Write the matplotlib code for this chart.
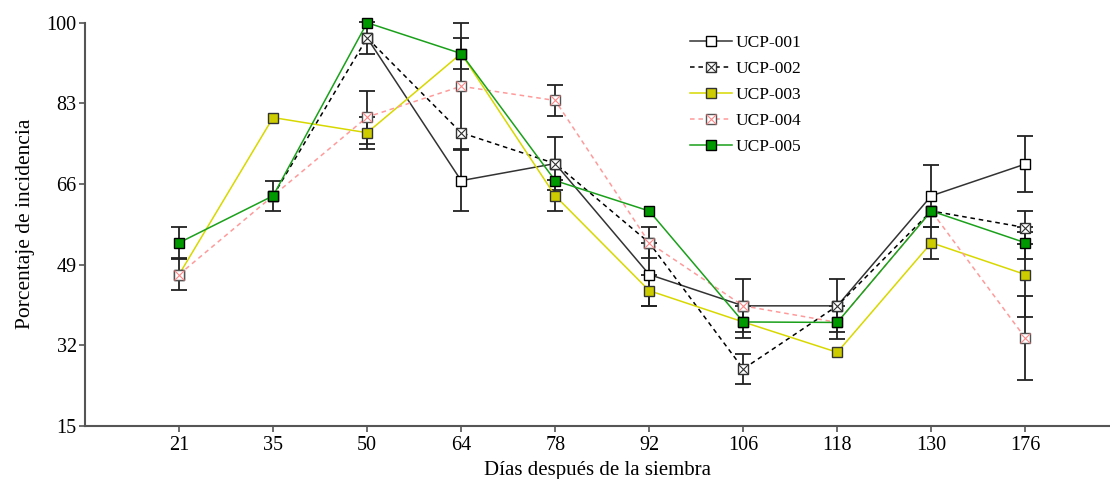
import numpy as np
import matplotlib
matplotlib.use("Agg")
import matplotlib.pyplot as plt
from matplotlib.legend_handler import HandlerTuple

plt.rcParams['font.family'] = ['Liberation Serif', 'DejaVu Serif']

dias = ['21', '35', '50', '64', '78', '92', '106', '118', '130', '176']
nan = np.nan

ucp001 = [nan, nan, 96.8, 66.7, 70.3, 46.9, 40.3, 40.3, 63.5, 70.2]
ucp002 = [nan, 63.5, 96.8, 76.8, 70.3, 53.6, 27.0, 40.3, 60.3, 56.8]
ucp003 = [46.9, 80.0, 76.8, 93.5, 63.5, 43.5, 36.9, 30.5, 53.6, 46.9]
ucp004 = [46.9, 63.5, 80.1, 86.6, 83.6, 53.6, 40.3, 36.8, 60.3, 33.5]
ucp005 = [53.6, 63.5, 100.0, 93.5, 66.7, 60.3, 36.9, 36.8, 60.3, 53.6]

err001 = [0, 0, 0, 6.5, 5.6, 6.6, 5.6, 5.6, 6.5, 5.9]
err002 = [0, 0, 3.4, 0, 0, 0, 3.2, 0, 0, 3.4]
err003 = [3.3, 0, 3.4, 0, 3.3, 3.2, 0, 0, 3.4, 9.0]
err004 = [0, 0, 5.6, 13.3, 3.3, 3.3, 0, 0, 0, 8.9]
err005 = [3.3, 3.2, 0, 3.3, 0, 0, 3.4, 3.4, 0, 3.4]

nombres = ['UCP-001', 'UCP-002', 'UCP-003', 'UCP-004', 'UCP-005']

x = np.arange(len(dias))

fig = plt.figure(figsize=(11.1, 4.79), dpi=100)
ax = fig.add_axes([0.0766, 0.111, 0.9234, 0.8416])

ms = 6.5
ejes = '#555555'

# barras de error primero, debajo de las lineas
for vals, err in [(ucp001, err001), (ucp002, err002), (ucp003, err003),
                  (ucp004, err004), (ucp005, err005)]:
    v = np.array(vals, dtype=float)
    e = np.array(err, dtype=float)
    m = (e > 0) & ~np.isnan(v)
    ax.errorbar(x[m], v[m], yerr=e[m], fmt='none', ecolor='#222222',
                elinewidth=1.3, capsize=6, capthick=1.3, zorder=2, clip_on=False)

h1, = ax.plot(x, ucp001, color='#333333', lw=1.1, marker='s', ms=ms,
              mfc='white', mec='black', mew=1, zorder=3, clip_on=False)
h2a, = ax.plot(x, ucp002, color='black', lw=1.1, ls=(0, (3, 2.5)), marker='s', ms=ms,
               mfc='white', mec='#333333', mew=1, zorder=3, clip_on=False)
h2b, = ax.plot(x, ucp002, ls='none', marker='x', ms=ms, mec='#333333', mew=0.8,
               zorder=3, clip_on=False)
h3, = ax.plot(x, ucp003, color='#d8d800', lw=1.1, marker='s', ms=ms,
              mfc='#cccc00', mec='#333333', mew=1, zorder=3, clip_on=False)
h4a, = ax.plot(x, ucp004, color='#ff9a9a', lw=1.1, ls=(0, (3, 2.5)), marker='s', ms=ms,
               mfc='white', mec='#555555', mew=1, zorder=3, clip_on=False)
h4b, = ax.plot(x, ucp004, ls='none', marker='x', ms=ms, mec='#ff8888', mew=0.8,
               zorder=3, clip_on=False)
h5, = ax.plot(x, ucp005, color='#1aa01a', lw=1.1, marker='s', ms=ms,
              mfc='#009900', mec='black', mew=1, zorder=4, clip_on=False)

ax.set_xlim(-1, 9.9)
ax.set_ylim(15, 100)
ax.set_xticks(x)
ax.set_xticklabels(dias)
ax.set_yticks([15, 32, 49, 66, 83, 100])

for s in ['top', 'right']:
    ax.spines[s].set_visible(False)
for s in ['left', 'bottom']:
    ax.spines[s].set_color(ejes)
    ax.spines[s].set_linewidth(1.5)
ax.tick_params(axis='both', colors=ejes, labelcolor='black', labelsize=14.5,
               length=4, width=1.2, direction='out')
ax.tick_params(axis='y', pad=2)

ax.set_xlabel('Días después de la siembra', fontsize=15, labelpad=4)
ax.set_ylabel('Porcentaje de incidencia', fontsize=15.5, labelpad=8)

ax.legend([h1, (h2a, h2b), h3, (h4a, h4b), h5], nombres,
          handler_map={tuple: HandlerTuple(ndivide=1, pad=0)},
          loc='upper left', bbox_to_anchor=(0.6216, 0.927), bbox_transform=fig.transFigure,
          frameon=False, fontsize=12.5, borderpad=0, borderaxespad=0,
          handlelength=2.42, handletextpad=0.23, labelspacing=0.56)

fig.savefig('out.png', dpi=100)
